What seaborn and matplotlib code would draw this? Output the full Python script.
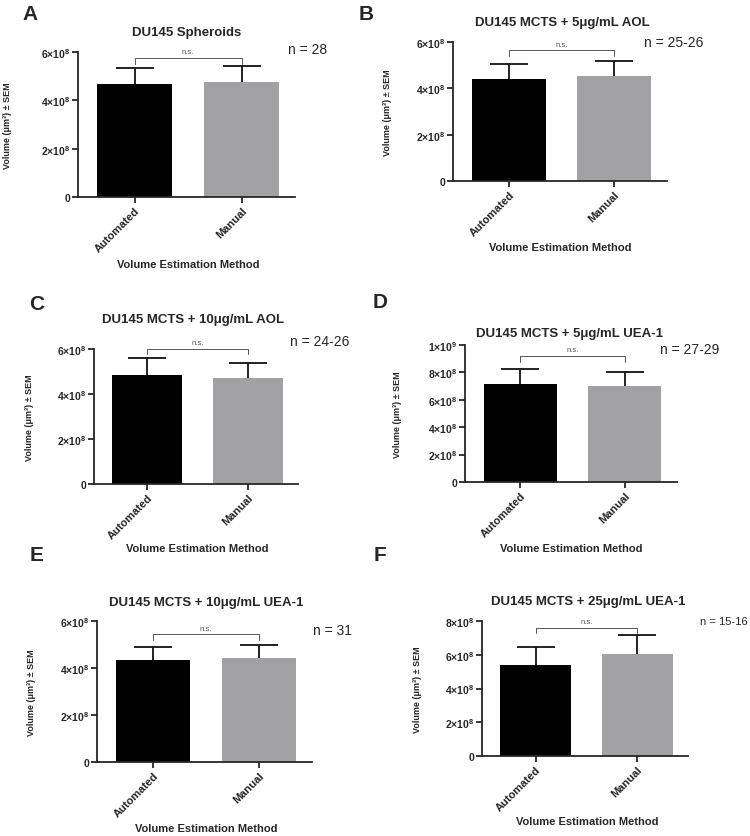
import matplotlib
matplotlib.use("Agg")
import matplotlib.pyplot as plt
import numpy as np
import pandas as pd
import seaborn as sns

# data (volumes in units of 1e8 um^3)
methods = ["Automated", "Manual"]
panel_ids = ["A", "B", "C", "D", "E", "F"]
titles = ["DU145 Spheroids",
          "DU145 MCTS + 5\u03bcg/mL AOL",
          "DU145 MCTS + 10\u03bcg/mL AOL",
          "DU145 MCTS + 5\u03bcg/mL UEA-1",
          "DU145 MCTS + 10\u03bcg/mL UEA-1",
          "DU145 MCTS + 25\u03bcg/mL UEA-1"]
n_labels = ["n = 28", "n = 25-26", "n = 24-26", "n = 27-29", "n = 31", "n = 15-16"]
means = [[4.68, 4.74], [4.41, 4.55], [4.84, 4.70],
         [7.16, 6.99], [4.32, 4.43], [5.39, 6.04]]
sems = [[0.66, 0.67], [0.64, 0.65], [0.76, 0.69],
        [1.09, 1.02], [0.57, 0.56], [1.08, 1.16]]
bracket_y = [5.75, 5.64, 6.0, 9.18, 5.43, 7.61]
y_max = [6, 6, 6, 10, 6, 8]
tick_labels = {6: ["0", "2\u00d710$^{8}$", "4\u00d710$^{8}$", "6\u00d710$^{8}$"],
               8: ["0", "2\u00d710$^{8}$", "4\u00d710$^{8}$", "6\u00d710$^{8}$", "8\u00d710$^{8}$"],
               10: ["0", "2\u00d710$^{8}$", "4\u00d710$^{8}$", "6\u00d710$^{8}$", "8\u00d710$^{8}$", "1\u00d710$^{9}$"]}

W, H = 750, 837
# layout in pixels: axes (left, right, top, bottom)
boxes = [(78, 295, 53, 198), (453, 667, 43, 182), (94, 298, 350, 485),
         (465, 677, 346, 483), (97, 312, 622, 763), (482, 688, 622, 757)]
letter_pos = [(30, 15), (366, 15), (37, 304), (380, 303), (37, 556), (380, 556)]
title_pos = [(187, 33), (562, 23), (193, 320), (570, 334), (206, 603), (588, 602)]
n_pos = [(288, 50), (644, 43), (290, 342), (660, 350), (313, 631), (700, 622)]
xlab_pos = [(188, 265), (560, 248), (197, 549), (571, 549), (206, 829), (587, 822)]
ylab_x = [8, 387, 29, 397, 31, 418]

sns.set_style("ticks")
plt.rcParams["font.family"] = ["Liberation Sans", "DejaVu Sans"]
plt.rcParams["mathtext.fontset"] = "custom"
plt.rcParams["mathtext.rm"] = "Liberation Sans"
plt.rcParams["mathtext.bf"] = "Liberation Sans:bold"
plt.rcParams["mathtext.default"] = "bf"

fig = plt.figure(figsize=(7.5, 8.37), dpi=100)


def ftext(x, y, s, **kw):
    fig.text(x / W, 1 - y / H, s, **kw)


for i in range(6):
    l, r, t, b = boxes[i]
    ax = fig.add_axes([l / W, 1 - b / H, (r - l) / W, (b - t) / H])
    df = pd.DataFrame({"method": methods, "vol": means[i]})
    sns.barplot(data=df, x="method", y="vol", hue="method",
                palette=["#000000", "#a2a2a4"], legend=False,
                width=0.7, errorbar=None, linewidth=0, ax=ax, zorder=2)
    eb = ax.errorbar([0, 1], means[i], yerr=[[0, 0], sems[i]], fmt="none",
                     ecolor="#111111", elinewidth=1.3,
                     capsize=14, capthick=1.3, zorder=1)
    eb[1][0].set_visible(False)  # upper-only error bars
    ax.set_xlim(-0.53, 1.5)
    ax.set_ylim(0, y_max[i])
    ax.set_yticks(np.arange(0, y_max[i] + 0.1, 2))
    ax.set_yticklabels(tick_labels[y_max[i]], fontsize=7.5, fontweight="bold")
    ax.set_xticks([0, 1])
    ax.set_xticklabels(methods, rotation=45, ha="right", rotation_mode="anchor",
                       fontsize=8, fontweight="bold")
    ax.set_xlabel("")
    ax.set_ylabel("")
    for sp in ["top", "right"]:
        ax.spines[sp].set_visible(False)
    for sp in ["left", "bottom"]:
        ax.spines[sp].set_linewidth(1.3)
    ax.tick_params(axis="both", width=1.1, length=4, pad=1.5, color="black")

    # significance bracket
    by = bracket_y[i]
    leg = y_max[i] * 0.04
    ax.plot([0, 0, 1, 1], [by - leg, by, by, by - leg], color="#555555",
            lw=0.7, clip_on=False)
    ax.text(0.5, by + y_max[i] * 0.02, "n.s.", ha="center", va="bottom",
            fontsize=5.5, color="#555555")

    ftext(*letter_pos[i], panel_ids[i], fontsize=15, fontweight="bold",
          ha="center", va="center")
    ftext(*title_pos[i], titles[i], fontsize=9.5, fontweight="bold",
          ha="center", va="center")
    ftext(*n_pos[i], n_labels[i], fontsize=8 if i == 5 else 10,
          ha="left", va="center")
    ftext(*xlab_pos[i], "Volume Estimation Method", fontsize=8,
          fontweight="bold", ha="center", va="center")
    ftext(ylab_x[i], (t + b) / 2, "Volume (\u03bcm\u00b3) \u00b1 SEM",
          fontsize=6.5, fontweight="bold", rotation=90, ha="center", va="center")

fig.savefig("out.png", dpi=100)
